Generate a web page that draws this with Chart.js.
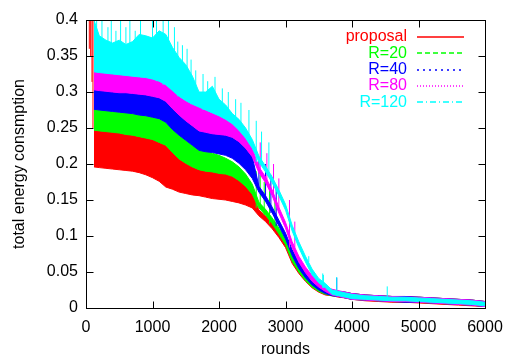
<!DOCTYPE html>
<html>
<head>
<meta charset="utf-8">
<title>total energy consmption vs rounds</title>
<script src="https://cdn.jsdelivr.net/npm/chart.js@4.4.0/dist/chart.umd.min.js"></script>
<style>
  html, body { margin: 0; padding: 0; background: #fff; }
  #wrap { position: relative; width: 508px; height: 360px; }
</style>
</head>
<body>
<div id="wrap"><canvas id="energy"></canvas></div>
<script>
// ── Data (lower / upper edge of each noisy band) ──
var rounds = [120, 200, 300, 400, 500, 600, 700, 800, 900, 1000,
  1100, 1200, 1300, 1400, 1500, 1600, 1700, 1800, 1900, 2000,
  2100, 2200, 2300, 2400, 2500, 2600, 2700, 2800, 2900, 3000,
  3100, 3200, 3300, 3400, 3500, 3600, 3700, 3800, 3900, 4000,
  4200, 4400, 4600, 4800, 5000, 5200, 5400, 5600, 5800, 6000];

var seriesNames = ['proposal', 'R=20', 'R=40', 'R=80', 'R=120'];

var proposalLo = [.196, .195, .194, .193, .192, .191, .190, .188, .185, .181,
  .176, .168, .165, .161, .159, .157, .156, .154, .152, .151,
  .150, .148, .146, .143, .139, .128, .120, .110, .098, .084,
  .062, .048, .037, .028, .022, .018, .017, .015, .014, .012,
  .010, .009, .008, .008, .007, .006, .005, .004, .003, .002];
var proposalHi = [.247, .246, .245, .244, .243, .241, .240, .238, .236, .234,
  .230, .226, .216, .207, .201, .196, .192, .190, .189, .187,
  .186, .183, .177, .169, .158, .136, .128, .118, .106, .092,
  .070, .056, .045, .036, .030, .026, .025, .023, .021, .020,
  .018, .017, .016, .016, .015, .014, .013, .012, .011, .009];

var r20Lo = [.247, .246, .245, .244, .243, .241, .240, .238, .236, .234,
  .230, .226, .216, .207, .201, .196, .192, .190, .189, .187,
  .186, .183, .177, .169, .158, .139, .129, .117, .103, .088,
  .065, .050, .038, .029, .023, .019, .017, .016, .014, .012,
  .011, .010, .009, .009, .008, .007, .006, .005, .004, .002];
var r20Hi = [.276, .275, .274, .273, .272, .271, .270, .268, .267, .265,
  .263, .258, .248, .240, .233, .226, .220, .218, .215, .212,
  .208, .203, .196, .186, .172, .147, .137, .125, .111, .096,
  .073, .058, .046, .037, .031, .027, .025, .023, .022, .020,
  .018, .017, .016, .015, .015, .014, .013, .012, .011, .009];

var r40Lo = [.276, .275, .274, .273, .272, .271, .270, .268, .267, .265,
  .263, .258, .248, .240, .233, .226, .219, .217, .216, .214,
  .212, .208, .201, .192, .180, .161, .148, .132, .114, .096,
  .073, .055, .042, .032, .025, .020, .017, .016, .014, .012,
  .011, .010, .009, .008, .008, .007, .006, .005, .004, .002];
var r40Hi = [.303, .302, .301, .300, .299, .299, .298, .297, .296, .294,
  .292, .287, .277, .268, .260, .253, .246, .244, .242, .241,
  .240, .237, .231, .222, .210, .169, .156, .140, .122, .104,
  .081, .063, .050, .040, .033, .028, .025, .023, .022, .020,
  .018, .017, .016, .016, .015, .014, .013, .012, .011, .009];

var r80Lo = [.303, .302, .301, .300, .299, .299, .298, .297, .296, .294,
  .292, .287, .277, .268, .260, .253, .246, .244, .242, .241,
  .240, .237, .231, .222, .210, .188, .174, .156, .132, .111,
  .084, .064, .049, .037, .029, .023, .018, .016, .014, .012,
  .011, .010, .009, .009, .008, .007, .006, .005, .004, .002];
var r80Hi = [.328, .327, .326, .325, .324, .323, .322, .321, .320, .318,
  .315, .310, .302, .294, .288, .283, .279, .275, .271, .267,
  .262, .256, .247, .236, .222, .196, .182, .164, .140, .119,
  .092, .072, .057, .045, .037, .031, .026, .024, .022, .020,
  .018, .017, .016, .015, .015, .014, .013, .012, .011, .009];

var r120Lo = [.328, .327, .326, .325, .324, .323, .322, .321, .320, .318,
  .315, .310, .302, .294, .288, .283, .279, .275, .271, .267,
  .262, .256, .247, .236, .222, .203, .189, .174, .156, .136,
  .107, .084, .064, .046, .035, .028, .019, .017, .015, .013,
  .012, .011, .010, .010, .009, .008, .007, .006, .005, .003];
var r120Hi = [.400, .378, .372, .368, .372, .366, .370, .380, .378, .375,
  .385, .380, .362, .348, .338, .322, .300, .300, .308, .290,
  .282, .270, .262, .250, .234, .211, .197, .182, .164, .144,
  .115, .092, .072, .054, .041, .034, .025, .023, .021, .019,
  .017, .016, .015, .015, .014, .013, .012, .011, .010, .008];

// ── Single spikes sticking out of the bands ──
var proposalSpikeAt  = [50, 70, 90, 105];
var proposalSpikeLo  = [.360, .350, .314, .250];
var proposalSpikeTop = [.400, .400, .400, .400];

var r20SpikeAt  = [2560, 2620, 2680, 2760, 2840];
var r20SpikeTop = [.190, .185, .175, .170, .150];

var r40SpikeAt  = [2600, 2700, 2780, 2860, 3770];
var r40SpikeTop = [.205, .200, .185, .170, .042];

var r80SpikeAt  = [2620, 2720, 2820, 2900, 3060, 3140];
var r80SpikeTop = [.230, .215, .200, .180, .150, .120];

var r120SpikeAt  = [160, 240, 330, 380, 450, 520, 600, 660, 740, 820,
  1000, 1060, 1160, 1240, 1330, 1380, 1450, 1520, 1580, 1650,
  1760, 1830, 1940, 2050, 2140, 2250, 2330, 2450, 2560, 2640,
  2750, 3350, 3560, 3570, 3770, 4530];
var r120SpikeTop = [.400, .400, .390, .400, .385, .400, .390, .400, .385, .400,
  .400, .400, .400, .400, .390, .370, .365, .360, .345, .330,
  .325, .315, .321, .305, .300, .290, .285, .275, .260, .245,
  .230, .072, .048, .046, .043, .030];

var xTickStep = 1000;
var yTickStep = 0.05;

// ── Style ──
var FONT = "'Liberation Sans', Arial, Helvetica, sans-serif";
var TICK = 7;
var colors = ['#ff0000', '#00ff00', '#0000ff', '#ff00ff', '#00ffff'];
var legendDash = [[], [5, 3], [2, 4], [1, 2], [6, 3, 1, 3]];

function nearestIndex(r) {
  var best = 0;
  for (var i = 1; i < rounds.length; i++) {
    if (Math.abs(rounds[i] - r) < Math.abs(rounds[best] - r)) best = i;
  }
  return best;
}

function points(values) {
  return rounds.map(function (r, i) { return { x: r, y: values[i] }; });
}

// base: either one value per spike, or a band edge looked up at the nearest round
function spikePoints(at, top, baseEach, bandEdge) {
  var out = [];
  at.forEach(function (r, i) {
    var base = baseEach ? baseEach[i] : bandEdge[nearestIndex(r)];
    out.push({ x: r, y: base }, { x: r, y: top[i] }, { x: r, y: null });
  });
  return out;
}

var bands = [
  { lo: proposalLo, hi: proposalHi, spikes: spikePoints(proposalSpikeAt, proposalSpikeTop, proposalSpikeLo) },
  { lo: r20Lo, hi: r20Hi, spikes: spikePoints(r20SpikeAt, r20SpikeTop, null, r20Lo) },
  { lo: r40Lo, hi: r40Hi, spikes: spikePoints(r40SpikeAt, r40SpikeTop, null, r40Lo) },
  { lo: r80Lo, hi: r80Hi, spikes: spikePoints(r80SpikeAt, r80SpikeTop, null, r80Lo) },
  { lo: r120Lo, hi: r120Hi, spikes: spikePoints(r120SpikeAt, r120SpikeTop, null, r120Lo) }
];

// proposal is plotted first, R=120 last (on top) like gnuplot
var datasets = [];
bands.forEach(function (b, k) {
  var c = colors[k];
  var order = bands.length - k;
  var common = { borderColor: c, borderWidth: 1, pointRadius: 0, tension: 0, order: order };
  datasets.push(Object.assign({ label: seriesNames[k], data: points(b.lo), fill: false }, common));
  datasets.push(Object.assign({ label: seriesNames[k] + ' upper', data: points(b.hi), fill: '-1', backgroundColor: c }, common));
  datasets.push(Object.assign({ label: seriesNames[k] + ' spikes', data: b.spikes, fill: false, spanGaps: false }, common));
});

// ── gnuplot style frame with inward ticks on all four sides ──
var gnuplotFrame = {
  id: 'gnuplotFrame',
  afterDatasetsDraw: function (chart) {
    var ctx = chart.ctx, a = chart.chartArea;
    var xs = chart.scales.x, ys = chart.scales.y;
    var L = Math.round(a.left) + 0.5, R = Math.round(a.right) + 0.5;
    var T = Math.round(a.top) + 0.5, B = Math.round(a.bottom) + 0.5;
    ctx.save();
    ctx.strokeStyle = '#000';
    ctx.lineWidth = 1;
    ctx.beginPath();
    xs.ticks.forEach(function (t) {
      var px = Math.round(xs.getPixelForValue(t.value)) + 0.5;
      ctx.moveTo(px, B); ctx.lineTo(px, B - TICK);
      ctx.moveTo(px, T); ctx.lineTo(px, T + TICK);
    });
    ys.ticks.forEach(function (t) {
      var py = Math.round(ys.getPixelForValue(t.value)) + 0.5;
      ctx.moveTo(L, py); ctx.lineTo(L + TICK, py);
      ctx.moveTo(R, py); ctx.lineTo(R - TICK, py);
    });
    ctx.stroke();
    ctx.strokeRect(L, T, R - L, B - T);
    ctx.restore();
  }
};

// ── key in the top right corner: coloured title, then line sample ──
var gnuplotKey = {
  id: 'gnuplotKey',
  afterDraw: function (chart) {
    var ctx = chart.ctx;
    ctx.save();
    ctx.font = '16px ' + FONT;
    ctx.textAlign = 'right';
    ctx.textBaseline = 'middle';
    seriesNames.forEach(function (name, k) {
      var y = 37 + k * 16.3;
      ctx.fillStyle = colors[k];
      ctx.fillText(name, 407, y);
      ctx.strokeStyle = colors[k];
      ctx.lineWidth = 1.6;
      ctx.setLineDash(legendDash[k]);
      ctx.beginPath();
      ctx.moveTo(417, Math.round(y));
      ctx.lineTo(464, Math.round(y));
      ctx.stroke();
    });
    ctx.restore();
  }
};

Chart.defaults.font.family = FONT;
Chart.defaults.font.size = 16;
Chart.defaults.color = '#000';

new Chart(document.getElementById('energy'), {
  type: 'line',
  data: { datasets: datasets },
  options: {
    responsive: true,
    maintainAspectRatio: false,
    animation: false,
    events: [],
    layout: { padding: { left: 0, right: 23, top: 20, bottom: 0 } },
    plugins: {
      legend: { display: false },
      tooltip: { enabled: false },
      filler: { propagate: false }
    },
    scales: {
      x: {
        type: 'linear',
        min: 0,
        max: 6000,
        grid: { display: false, drawTicks: false, tickLength: 0 },
        border: { display: false },
        ticks: {
          stepSize: xTickStep,
          padding: 10,
          maxRotation: 0,
          callback: function (v) { return String(v); }
        },
        title: { display: true, text: 'rounds', padding: { top: 0, bottom: 1 } },
        afterFit: function (s) { s.height = 52; s.paddingLeft = 0; s.paddingRight = 0; }
      },
      y: {
        min: 0,
        max: 0.4,
        grid: { display: false, drawTicks: false, tickLength: 0 },
        border: { display: false },
        ticks: {
          stepSize: yTickStep,
          padding: 8,
          callback: function (v) { return String(+v.toFixed(2)); }
        },
        title: { display: true, text: 'total energy consmption', padding: { top: 10, bottom: 0 } },
        afterFit: function (s) { s.width = 86; s.paddingTop = 0; s.paddingBottom = 0; }
      }
    }
  },
  plugins: [gnuplotFrame, gnuplotKey]
});
</script>
</body>
</html>
